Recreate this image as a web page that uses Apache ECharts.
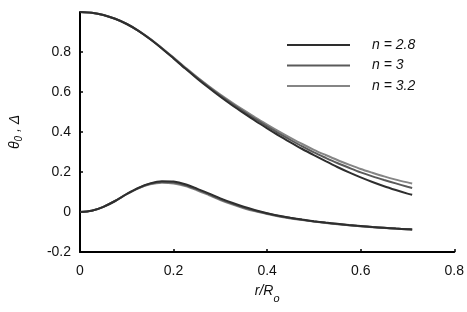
<!DOCTYPE html>
<html><head><meta charset="utf-8">
<script src="https://cdn.jsdelivr.net/npm/echarts@6/dist/echarts.min.js"></script>
<style>html,body{margin:0;padding:0;background:#fff}#c{width:467px;height:312px}</style>
</head><body><div id="c"></div>
<script>
const seriesNames = ['n = 2.8', 'n = 3', 'n = 3.2'];
const r = [0,0.025,0.05,0.075,0.1,0.125,0.15,0.175,0.2,0.225,0.25,0.275,0.3,0.325,0.35,0.375,0.4,0.425,0.45,0.475,0.5,0.525,0.55,0.575,0.6,0.625,0.65,0.675,0.7,0.71];
const theta28 = [1.000,0.996,0.985,0.966,0.940,0.906,0.864,0.818,0.768,0.717,0.668,0.621,0.576,0.534,0.494,0.455,0.418,0.382,0.348,0.315,0.284,0.254,0.225,0.198,0.173,0.150,0.129,0.110,0.092,0.086];
const theta30 = [1.000,0.996,0.985,0.966,0.940,0.906,0.865,0.819,0.770,0.720,0.672,0.626,0.582,0.541,0.502,0.464,0.428,0.393,0.360,0.328,0.298,0.271,0.245,0.221,0.198,0.178,0.160,0.143,0.126,0.120];
const theta32 = [1.000,0.996,0.985,0.966,0.940,0.906,0.866,0.820,0.772,0.723,0.675,0.630,0.587,0.547,0.509,0.472,0.437,0.403,0.371,0.340,0.311,0.285,0.260,0.237,0.215,0.196,0.178,0.162,0.148,0.143];
const delta28 = [0.000,0.006,0.026,0.055,0.090,0.121,0.143,0.154,0.152,0.139,0.117,0.093,0.068,0.046,0.026,0.009,-0.006,-0.019,-0.029,-0.038,-0.046,-0.053,-0.059,-0.065,-0.070,-0.075,-0.079,-0.083,-0.086,-0.087];
const delta30 = [0.000,0.006,0.026,0.055,0.090,0.120,0.141,0.150,0.147,0.134,0.113,0.089,0.064,0.042,0.022,0.006,-0.008,-0.020,-0.030,-0.039,-0.047,-0.054,-0.060,-0.066,-0.071,-0.075,-0.079,-0.083,-0.086,-0.087];
const delta32 = [0.000,0.006,0.026,0.055,0.089,0.118,0.138,0.146,0.143,0.130,0.109,0.085,0.060,0.038,0.019,0.003,-0.010,-0.022,-0.032,-0.040,-0.048,-0.055,-0.061,-0.066,-0.071,-0.076,-0.080,-0.083,-0.086,-0.088];
const xTicks = [0, 0.2, 0.4, 0.6, 0.8];
const yTicks = [-0.2, 0, 0.2, 0.4, 0.6, 0.8];

const colors = ['#2e2e2e', '#5a5a5a', '#858585'];
const pair = (xs, ys) => xs.map((x, i) => [x, ys[i]]);
const thetas = [theta28, theta30, theta32];
const deltas = [delta28, delta30, delta32];
const series = [];
seriesNames.forEach((nm, k) => {
  series.push({name: nm, type: 'line', data: pair(r, thetas[k]), smooth: 0.3, symbol: 'none',
    lineStyle: {color: colors[k], width: 2}, itemStyle: {color: colors[k]}, z: 3 - k});
});
seriesNames.forEach((nm, k) => {
  series.push({name: nm, type: 'line', data: pair(r, deltas[k]), smooth: 0.3, symbol: 'none',
    lineStyle: {color: colors[k], width: 2}, itemStyle: {color: colors[k]}, z: 3 - k});
});
const fam = '"Liberation Sans", Arial, sans-serif';
const chart = echarts.init(document.getElementById('c'), null, {renderer: 'canvas'});
chart.setOption({
  animation: false,
  backgroundColor: '#fff',
  grid: {left: 77, right: 12, top: 12, bottom: 60, containLabel: false},
  legend: {
    orient: 'vertical', left: 282, top: 33, itemWidth: 63, itemHeight: 14, itemGap: 6.5,
    data: seriesNames.map((n, k) => ({name: n, icon: 'path://M0,0H63V2H0Z', itemStyle: {color: colors[k]}})),
    textStyle: {fontFamily: fam, fontSize: 14, fontStyle: 'italic', color: '#111', padding: [0, 0, 0, 17]}
  },
  xAxis: {
    type: 'value', min: 0, max: 0.8, interval: 0.2,
    name: '{i|r/R}{s|o}', nameLocation: 'middle', nameGap: 27,
    nameTextStyle: {rich: {
      i: {fontFamily: fam, fontSize: 14, fontStyle: 'italic', color: '#111'},
      s: {fontFamily: fam, fontSize: 11, fontStyle: 'italic', color: '#111', padding: [14, 0, 0, 0]}
    }},
    axisLine: {show: true, onZero: false, lineStyle: {color: '#000', width: 2}},
    axisTick: {show: true, inside: true, length: 3, lineStyle: {color: '#000', width: 1.5}},
    splitLine: {show: false},
    axisLabel: {fontFamily: fam, fontSize: 14, color: '#111', margin: 12,
      formatter: v => { const t = xTicks.find(a => Math.abs(a - v) < 1e-9); return t === undefined ? '' : String(t); }}
  },
  yAxis: {
    type: 'value', min: -0.2, max: 1.0, interval: 0.2,
    name: '{i|θ}{s|0}{i| , Δ}', nameLocation: 'middle', nameGap: 56, nameRotate: 90,
    nameTextStyle: {rich: {
      i: {fontFamily: fam, fontSize: 14, fontStyle: 'italic', color: '#111'},
      s: {fontFamily: fam, fontSize: 10, fontStyle: 'italic', color: '#111', padding: [8, 0, 0, 0]}
    }},
    axisLine: {show: true, onZero: false, lineStyle: {color: '#000', width: 2}},
    axisTick: {show: true, inside: true, length: 3, lineStyle: {color: '#000', width: 1.5}},
    splitLine: {show: false},
    axisLabel: {fontFamily: fam, fontSize: 14, color: '#111', margin: 9,
      formatter: v => { const t = yTicks.find(a => Math.abs(a - v) < 1e-9); return t === undefined ? '' : String(t); }}
  },
  series: series
});
</script></body></html>
